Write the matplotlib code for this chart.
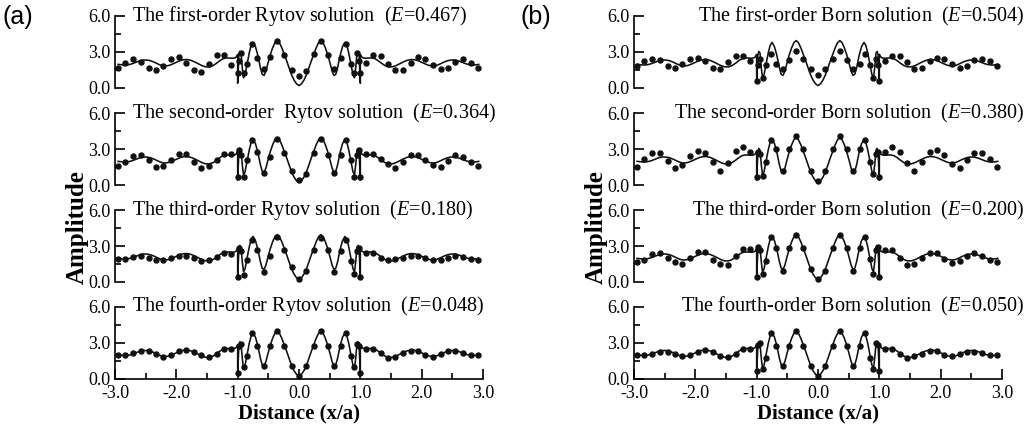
import numpy as np
import matplotlib
matplotlib.use("Agg")
import matplotlib.pyplot as plt

plt.rcParams['font.family'] = ['Liberation Serif', 'DejaVu Serif']
plt.rcParams['mathtext.fontset'] = 'custom'
plt.rcParams['mathtext.rm'] = 'Liberation Serif'
plt.rcParams['mathtext.it'] = 'Liberation Serif:italic'

# exact solution (solid line), same in every panel
line_x = [-2.95, -2.90, -2.84, -2.78, -2.72, -2.66, -2.60, -2.54, -2.48, -2.42,
          -2.36, -2.30, -2.24, -2.18, -2.12, -2.06, -2.00, -1.94, -1.88, -1.82,
          -1.76, -1.70, -1.64, -1.58, -1.52, -1.46, -1.40, -1.34, -1.29, -1.24,
          -1.19, -1.14, -1.09, -1.05, -1.02, -1.00, -1.00, -0.99, -0.98, -0.965,
          -0.945, -0.925, -0.905, -0.88, -0.85, -0.81, -0.78, -0.75, -0.71, -0.67,
          -0.63, -0.60, -0.57, -0.54, -0.51, -0.47, -0.43, -0.39, -0.355, -0.32,
          -0.28, -0.24, -0.20, -0.16, -0.12, -0.08, -0.04,
          0.00, 0.04, 0.08, 0.12, 0.16, 0.20, 0.24, 0.28, 0.32, 0.355,
          0.39, 0.43, 0.47, 0.51, 0.54, 0.57, 0.60, 0.63, 0.67, 0.71,
          0.75, 0.78, 0.81, 0.85, 0.88, 0.905, 0.925, 0.945, 0.965, 0.98,
          0.99, 1.00, 1.00, 1.02, 1.05, 1.09, 1.14, 1.19, 1.24, 1.29,
          1.34, 1.40, 1.46, 1.52, 1.58, 1.64, 1.70, 1.76, 1.82, 1.88,
          1.94, 2.00, 2.06, 2.12, 2.18, 2.24, 2.30, 2.36, 2.42, 2.48,
          2.54, 2.60, 2.66, 2.72, 2.78, 2.84, 2.90, 2.93]
line_y = [1.97, 1.94, 1.91, 1.94, 2.02, 2.14, 2.26, 2.33, 2.33, 2.27,
          2.15, 2.00, 1.87, 1.83, 1.88, 2.00, 2.14, 2.28, 2.36, 2.37,
          2.30, 2.17, 2.02, 1.86, 1.76, 1.76, 1.87, 2.08, 2.28, 2.44,
          2.50, 2.50, 2.48, 2.50, 2.60, 2.80, 0.40, 1.60, 2.75, 3.05,
          2.90, 1.70, 0.85, 1.10, 1.90, 2.95, 3.55, 3.80, 3.45, 2.70,
          1.70, 1.15, 1.05, 1.40, 2.00, 2.75, 3.35, 3.80, 3.95, 3.78,
          3.35, 2.80, 2.25, 1.65, 1.08, 0.65, 0.35,
          0.20, 0.35, 0.65, 1.08, 1.65, 2.25, 2.80, 3.35, 3.78, 3.95,
          3.80, 3.35, 2.75, 2.00, 1.40, 1.05, 1.15, 1.70, 2.70, 3.45,
          3.80, 3.55, 2.95, 1.90, 1.10, 0.85, 1.70, 2.90, 3.05, 2.75,
          1.60, 0.40, 2.80, 2.60, 2.50, 2.48, 2.50, 2.50, 2.44, 2.28,
          2.08, 1.87, 1.76, 1.76, 1.86, 2.02, 2.17, 2.30, 2.37, 2.36,
          2.28, 2.14, 2.00, 1.88, 1.83, 1.87, 2.00, 2.15, 2.27, 2.33,
          2.33, 2.26, 2.14, 2.02, 1.94, 1.91, 1.94, 1.97]

# sample points of the approximate solutions (dots)
dots_x = [-2.95, -2.83, -2.70, -2.58, -2.45, -2.33, -2.21, -2.09, -1.96, -1.84,
          -1.72, -1.60, -1.47, -1.34, -1.23, -1.11,
          -1.00, -0.98, -0.94, -0.90, -0.85, -0.76, -0.68, -0.57, -0.47, -0.355,
          -0.24, -0.12, 0.00, 0.12, 0.24, 0.355, 0.47, 0.57, 0.68, 0.76,
          0.85, 0.90, 0.94, 0.98, 1.00,
          1.09, 1.21, 1.33, 1.45, 1.57, 1.70, 1.82, 1.94, 2.06, 2.19,
          2.31, 2.43, 2.55, 2.68, 2.80, 2.92]

rytov1 = [1.70, 2.10, 2.43, 2.19, 1.64, 1.48, 1.83, 2.38, 2.57, 2.05, 1.50, 1.37, 1.97, 2.73, 2.76, 1.89,
          1.28, 2.24, 2.92, 1.28, 2.02, 3.69, 2.46, 1.56, 2.60, 3.88, 2.79, 1.50, 1.01, 1.42, 2.87, 3.88,
          2.79, 1.61, 2.46, 3.69, 2.02, 1.28, 2.92, 2.24, 1.28,
          2.10, 2.79, 2.70, 1.97, 1.50, 1.48, 2.10, 2.60, 2.43, 1.89, 1.56, 1.70, 2.16, 2.43, 2.10, 1.70]
rytov2 = [1.59, 1.94, 2.41, 2.47, 2.07, 1.54, 1.59, 2.12, 2.55, 2.55, 1.88, 1.41, 1.62, 2.07, 2.60, 2.60,
          0.66, 2.92, 2.50, 0.66, 2.07, 3.71, 2.73, 1.00, 2.33, 3.80, 2.65, 1.14, 0.40, 0.93, 2.65, 3.80,
          2.52, 1.00, 2.52, 3.71, 2.07, 0.66, 2.50, 2.92, 0.66,
          2.60, 2.60, 2.20, 1.72, 1.41, 1.88, 2.47, 2.52, 2.12, 1.67, 1.54, 2.02, 2.47, 2.33, 1.94, 1.59]
rytov3 = [1.88, 1.94, 2.10, 2.15, 2.02, 1.83, 1.80, 2.02, 2.15, 2.20, 2.02, 1.75, 1.80, 2.10, 2.41, 2.33,
          0.42, 2.81, 2.60, 0.60, 1.83, 3.53, 2.63, 0.82, 2.15, 3.74, 2.63, 1.22, 0.29, 0.95, 2.68, 3.69,
          2.68, 0.82, 2.60, 3.53, 1.75, 0.69, 2.60, 2.80, 0.42,
          2.41, 2.41, 2.02, 1.80, 1.88, 2.02, 2.15, 2.20, 2.02, 1.80, 1.83, 2.02, 2.15, 2.10, 1.88, 1.83]
rytov4 = [1.97, 1.92, 2.10, 2.33, 2.28, 2.05, 1.83, 2.00, 2.28, 2.39, 2.20, 1.92, 1.78, 2.05, 2.42, 2.47,
          0.45, 2.75, 2.90, 0.95, 1.90, 3.80, 2.75, 1.08, 2.75, 3.95, 2.75, 1.08, 0.25, 1.08, 2.75, 3.95,
          2.75, 1.08, 2.75, 3.80, 1.90, 0.95, 2.90, 2.75, 0.45,
          2.47, 2.47, 2.10, 1.72, 1.83, 2.10, 2.33, 2.28, 2.00, 1.83, 2.05, 2.28, 2.33, 2.10, 1.92, 1.97]
born1 = [1.83, 2.24, 2.43, 2.30, 1.83, 1.64, 1.97, 2.43, 2.51, 2.24, 1.70, 1.56, 2.16, 2.65, 2.70, 2.24,
         0.60, 1.90, 2.40, 0.80, 1.90, 2.85, 2.00, 1.55, 2.30, 3.05, 2.45, 1.60, 1.07, 1.60, 2.45, 3.05,
         2.30, 1.55, 2.00, 2.85, 1.90, 0.80, 2.40, 1.90, 0.60,
         2.24, 2.70, 2.65, 2.16, 1.56, 1.70, 2.24, 2.51, 2.43, 1.97, 1.64, 1.83, 2.30, 2.43, 2.24, 1.83]
born2 = [1.54, 2.20, 2.65, 2.65, 1.99, 1.41, 1.67, 2.41, 2.86, 2.65, 1.88, 1.19, 1.80, 2.86, 3.13, 2.78,
         0.66, 2.73, 2.60, 0.74, 1.94, 3.71, 3.00, 1.14, 3.00, 4.06, 3.00, 1.14, 0.34, 1.14, 3.00, 4.06,
         3.00, 1.14, 3.00, 3.71, 1.94, 0.88, 2.60, 2.73, 0.66,
         2.78, 3.13, 2.73, 1.80, 1.19, 1.88, 2.73, 2.92, 2.47, 1.72, 1.41, 2.07, 2.65, 2.65, 2.20, 1.54]
born3 = [1.67, 1.80, 2.36, 2.41, 2.02, 1.67, 1.54, 2.02, 2.49, 2.49, 1.80, 1.49, 1.41, 2.15, 2.73, 2.73,
         0.42, 2.94, 2.70, 0.69, 1.75, 3.74, 2.81, 0.95, 2.81, 3.93, 2.81, 1.09, 0.24, 0.95, 2.81, 3.93,
         2.81, 0.95, 2.81, 3.74, 1.88, 0.69, 2.70, 2.94, 0.42,
         2.68, 2.68, 2.02, 1.41, 1.54, 2.02, 2.41, 2.41, 1.94, 1.62, 1.75, 2.15, 2.41, 2.20, 1.80, 1.67]
born4 = [1.95, 1.92, 2.08, 2.25, 2.25, 2.05, 1.85, 1.98, 2.25, 2.35, 2.20, 1.88, 1.80, 2.05, 2.45, 2.47,
         0.60, 2.80, 3.00, 0.80, 1.70, 3.80, 2.75, 1.05, 2.75, 3.95, 2.75, 1.08, 0.25, 1.08, 2.75, 3.95,
         2.75, 1.05, 2.75, 3.80, 1.70, 0.80, 3.00, 2.80, 0.60,
         2.47, 2.45, 2.08, 1.75, 1.85, 2.05, 2.30, 2.28, 2.00, 1.85, 2.03, 2.22, 2.25, 2.10, 1.95, 1.97]

rytov_titles = ["The first-order Rytov solution  ($E$=0.467)",
                "The second-order  Rytov solution  ($E$=0.364)",
                "The third-order Rytov solution  ($E$=0.180)",
                "The fourth-order Rytov solution  ($E$=0.048)"]
born_titles = ["The first-order Born solution  ($E$=0.504)",
               "The second-order Born solution  ($E$=0.380)",
               "The third-order Born solution  ($E$=0.200)",
               "The fourth-order Born solution  ($E$=0.050)"]

y_ticks = [0.0, 3.0, 6.0]
x_ticks = [-3.0, -2.0, -1.0, 0.0, 1.0, 2.0, 3.0]

W, H = 1029, 436
ROW_TOP = [16, 113, 210, 306.5]  # px from top
ROW_H = 72
COL_LEFT = [115, 634]
COL_W = 368


def drawPanel(ax, dots, title, last, side):
  ax.plot(line_x, line_y, color="#111111", lw=1.15)
  ax.plot(dots_x, dots, linestyle="none", marker="o", ms=3.6, color="#111111")
  ax.set_xlim(-3, 3)
  ax.set_ylim(0, 6)
  for s in ["top", "right"]:
    ax.spines[s].set_visible(False)
  ax.spines["left"].set_linewidth(1.2)
  ax.set_yticks(y_ticks)
  ax.set_yticklabels(["%.1f" % v for v in y_ticks])
  ax.set_yticks([1.5, 4.5], minor=True)
  ax.tick_params(axis="y", which="major", direction="in", length=7, width=1.2,
                 labelsize=13, pad=3)
  ax.tick_params(axis="y", which="minor", direction="in", length=4, width=1.2)
  if last:
    ax.spines["bottom"].set_linewidth(1.2)
    ax.set_xticks(x_ticks)
    ax.set_xticklabels(["%.1f" % v for v in x_ticks])
    ax.set_xticks(np.arange(-2.5, 3.0, 1.0), minor=True)
    ax.tick_params(axis="x", which="major", direction="in", length=7, width=1.2,
                   labelsize=13, pad=5)
    ax.tick_params(axis="x", which="minor", direction="in", length=4, width=1.2)
  else:
    ax.spines["bottom"].set_visible(False)
    ax.set_xticks([])
  # title inside the panel, on the level of the 6.0 tick
  if side == 0:
    ax.text(-2.73, 6.0, title, ha="left", va="center", fontsize=14.5)
  else:
    ax.text(3.36, 6.0, title, ha="right", va="center", fontsize=14.5)


def main():
  fig = plt.figure(figsize=(W / 100, H / 100), dpi=100)
  rytov = [rytov1, rytov2, rytov3, rytov4]
  born = [born1, born2, born3, born4]
  for side, (sets, titles) in enumerate([(rytov, rytov_titles), (born, born_titles)]):
    for row in range(4):
      rect = [COL_LEFT[side] / W, 1 - (ROW_TOP[row] + ROW_H) / H, COL_W / W, ROW_H / H]
      ax = fig.add_axes(rect)
      drawPanel(ax, sets[row], titles[row], row == 3, side)
    cx = (COL_LEFT[side] + COL_W / 2) / W
    fig.text(cx, 1 - 413 / H, "Distance (x/a)", ha="center", va="center",
             fontsize=15, fontweight="bold")
    fig.text((COL_LEFT[side] - 38) / W, 1 - 227 / H, "Amplitude", ha="center",
             va="center", rotation=90, fontsize=18, fontweight="bold")
  fig.text(3 / W, 1 - 17 / H, "(a)", ha="left", va="center", fontsize=18,
           family=["Liberation Sans", "DejaVu Sans"])
  fig.text(521 / W, 1 - 17 / H, "(b)", ha="left", va="center", fontsize=18,
           family=["Liberation Sans", "DejaVu Sans"])
  fig.savefig("out.png", dpi=100)


if __name__ == '__main__':
  main()
